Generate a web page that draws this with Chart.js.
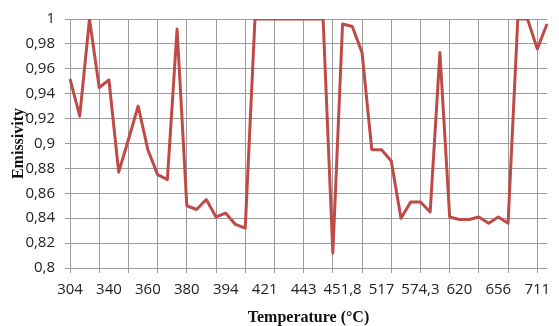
<!DOCTYPE html>
<html>
<head>
<meta charset="utf-8">
<script src="https://cdn.jsdelivr.net/npm/chart.js@4"></script>
<style>
  html, body { margin: 0; padding: 0; background: #fff; }
  #wrap { width: 559px; height: 326px; }
</style>
</head>
<body>
<div id="wrap"><canvas id="chart" width="559" height="326"></canvas></div>
<script>
// tick labels shown on the temperature axis (every 4th point)
const tickLabels = ["304", "340", "360", "380", "394", "421", "443", "451,8", "517", "574,3", "620", "656", "711"];

// emissivity readings, one per measured temperature
const emissivity = [
  0.952, 0.922, 1.000, 0.945, 0.951, 0.877, 0.903, 0.930, 0.895, 0.875,
  0.871, 0.992, 0.850, 0.847, 0.855, 0.841, 0.844, 0.835, 0.832, 1.000,
  1.000, 1.000, 1.000, 1.000, 1.000, 1.000, 1.000, 0.812, 0.996, 0.994,
  0.973, 0.895, 0.895, 0.886, 0.840, 0.853, 0.853, 0.845, 0.973, 0.841,
  0.839, 0.839, 0.841, 0.836, 0.841, 0.836, 1.000, 1.000, 0.976, 0.996
];

// categories: only every 4th temperature carries a printed label
const categories = emissivity.map((_, i) => (i % 4 === 0 ? tickLabels[i / 4] : ""));

const gridGray = "#9c9c9c";
const tickFont = { family: "'Open Sans', sans-serif", size: 15 };
const titleFont = { family: "'Liberation Serif', 'DejaVu Serif', serif", size: 16, weight: "bold", lineHeight: 1.07 };

const ctx = document.getElementById("chart").getContext("2d");
new Chart(ctx, {
  type: "line",
  data: {
    labels: categories,
    datasets: [{
      data: emissivity,
      borderColor: "#be4b48",
      borderWidth: 3,
      borderJoinStyle: "round",
      pointRadius: 0,
      tension: 0,
      fill: false
    }]
  },
  options: {
    responsive: false,
    animation: false,
    devicePixelRatio: 1,
    layout: { padding: { top: 16, right: 12, left: 0, bottom: 0 } },
    plugins: { legend: { display: false }, tooltip: { enabled: false } },
    scales: {
      x: {
        type: "category",
        offset: false,
        afterFit: (s) => { s.height = 58; },
        grid: {
          color: (c) => (c.index % 3 === 0 ? gridGray : "rgba(0,0,0,0)"),
          lineWidth: 1,
          tickLength: 5
        },
        border: { display: false },
        ticks: {
          autoSkip: false,
          maxRotation: 0,
          minRotation: 0,
          padding: 8,
          color: "#222",
          font: tickFont
        },
        title: {
          display: true,
          text: "Temperature (\u00B0C)",
          color: "#111",
          font: titleFont,
          padding: { top: 0, bottom: 0 }
        }
      },
      y: {
        min: 0.8,
        max: 1,
        afterFit: (s) => { s.width = 70; },
        grid: { color: gridGray, lineWidth: 1, tickLength: 5 },
        border: { display: true, color: gridGray },
        ticks: {
          stepSize: 0.02,
          padding: 10,
          color: "#222",
          font: tickFont,
          callback: (v) => Number(v.toFixed(2)).toString().replace(".", ",")
        },
        title: {
          display: true,
          text: "Emissivity",
          color: "#111",
          font: titleFont,
          padding: { top: 10, bottom: 0 }
        }
      }
    }
  }
});
</script>
</body>
</html>
